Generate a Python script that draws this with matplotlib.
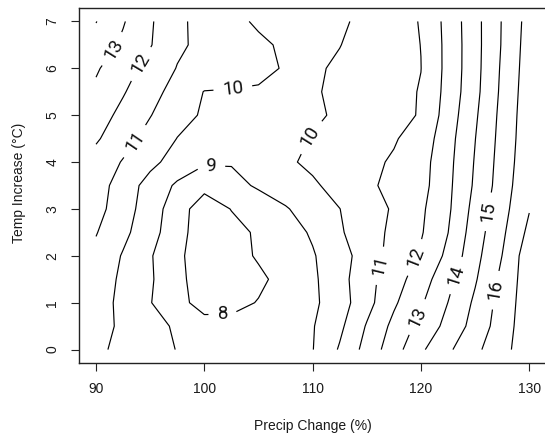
import matplotlib
matplotlib.use("Agg")
import matplotlib.pyplot as plt
import numpy as np

# Grid axes
precip_change = [90, 92.5, 95, 97.5, 100, 102.5, 105, 107.5, 110, 112.5,
                 115, 117.5, 120, 122.5, 125, 127.5, 130]
temp_increase = [0, 0.5, 1, 1.5, 2, 2.5, 3, 3.5, 4, 4.5, 5, 5.5, 6, 6.5, 7]

# Response surface, one row per temperature step
row_t00 = [10.18, 9.77, 9.36, 8.97, 8.73, 8.50, 8.53, 8.75, 8.97, 10.10, 11.35, 12.57, 13.84, 14.83, 15.77, 16.69, 17.60]
row_t05 = [10.33, 9.84, 9.34, 8.86, 8.39, 8.32, 8.53, 8.73, 8.94, 9.79, 11.08, 12.26, 13.32, 14.29, 15.37, 16.50, 17.64]
row_t10 = [10.45, 9.74, 9.04, 8.33, 7.60, 7.70, 8.05, 8.43, 8.81, 9.55, 10.66, 11.85, 12.88, 14.01, 15.17, 16.40, 17.59]
row_t15 = [10.52, 9.82, 9.11, 8.31, 7.40, 7.50, 7.80, 8.34, 8.83, 9.65, 10.66, 11.57, 12.51, 13.72, 14.90, 16.24, 17.58]
row_t20 = [10.76, 9.92, 9.08, 8.26, 7.30, 7.60, 8.11, 8.51, 8.92, 9.59, 10.48, 11.37, 12.13, 13.23, 14.69, 16.01, 17.59]
row_t25 = [11.05, 10.24, 9.36, 8.39, 7.40, 7.70, 8.13, 8.60, 9.11, 9.89, 10.56, 11.22, 11.91, 12.99, 14.51, 15.82, 17.24]
row_t30 = [11.34, 10.44, 9.49, 8.46, 7.45, 8.03, 8.47, 8.92, 9.45, 9.99, 10.54, 11.11, 11.83, 12.84, 14.34, 15.65, 16.95]
row_t35 = [11.46, 10.53, 9.63, 8.85, 8.30, 8.70, 9.12, 9.49, 9.87, 10.31, 10.80, 11.29, 11.65, 12.78, 14.15, 15.48, 16.84]
row_t40 = [11.62, 10.93, 10.25, 9.60, 9.12, 9.07, 9.45, 9.86, 10.18, 10.49, 10.79, 11.10, 11.60, 12.72, 14.07, 15.41, 16.71]
row_t45 = [12.12, 11.38, 10.65, 9.98, 9.76, 9.53, 9.51, 9.77, 10.04, 10.34, 10.63, 10.92, 11.40, 12.63, 13.98, 15.34, 16.64]
row_t50 = [12.44, 11.74, 11.04, 10.32, 9.89, 9.70, 9.50, 9.69, 9.88, 10.11, 10.41, 10.71, 11.07, 12.47, 13.86, 15.28, 16.60]
row_t55 = [12.82, 12.08, 11.34, 10.64, 9.97, 9.94, 9.92, 9.85, 9.93, 10.14, 10.43, 10.72, 11.05, 12.34, 13.73, 15.20, 16.55]
row_t60 = [13.11, 12.39, 11.66, 10.96, 10.71, 10.45, 10.19, 9.94, 9.88, 10.12, 10.43, 10.71, 10.99, 12.29, 13.68, 15.14, 16.49]
row_t65 = [13.58, 12.82, 12.06, 11.17, 10.75, 10.45, 10.14, 9.88, 9.75, 9.98, 10.31, 10.66, 11.01, 12.29, 13.67, 15.07, 16.44]
row_t70 = [14.03, 13.08, 12.12, 11.21, 10.66, 10.21, 9.89, 9.68, 9.72, 9.85, 10.25, 10.63, 11.05, 12.33, 13.68, 15.05, 16.37]

surface = np.array([row_t00, row_t05, row_t10, row_t15, row_t20, row_t25, row_t30,
                    row_t35, row_t40, row_t45, row_t50, row_t55, row_t60, row_t65,
                    row_t70])

contour_levels = [8, 9, 10, 11, 12, 13, 14, 15, 16, 17]
labelled_levels = [8, 9, 10, 11, 12, 13, 14, 15, 16]

x_ticks = [90, 100, 110, 120, 130]
y_ticks = [0, 1, 2, 3, 4, 5, 6, 7]

# Where the contour labels sit
label_spots = [(91.6, 6.4), (94.1, 6.1), (93.6, 4.44), (102.6, 5.62),
               (100.6, 3.84), (101.7, 0.70), (109.7, 4.55), (116.0, 1.80),
               (119.6, 1.95), (119.6, 0.70), (123.1, 1.59), (126.2, 2.94),
               (126.8, 1.27)]

plt.rcParams["font.family"] = ["Liberation Sans", "DejaVu Sans"]

fig = plt.figure(figsize=(5.45, 4.38), dpi=100)
ax = fig.add_axes([0.1444, 0.1719, 0.8585, 0.8091])
ax.set_xlim(88.4, 131.6)
ax.set_ylim(-0.28, 7.28)

cs = ax.contour(precip_change, temp_increase, surface, levels=contour_levels,
                colors="black", linewidths=0.85)

with plt.rc_context({"font.family": ["Roboto", "DejaVu Sans"], "font.weight": "normal"}):
    ax.clabel(cs, levels=labelled_levels, manual=label_spots, inline=True,
              inline_spacing=9, fmt="%d", fontsize=13.5, colors="#111111")

ax.set_xticks(x_ticks)
ax.set_yticks(y_ticks)
ax.tick_params(direction="out", length=6, width=0.8, pad=8, labelsize=10,
               color="#222222", labelcolor="#1a1a1a")
for lab in ax.get_yticklabels():
    lab.set_rotation(90)
    lab.set_va("center")

for sp in ax.spines.values():
    sp.set_linewidth(1.0)
    sp.set_color("#222222")

ax.set_xlabel("Precip Change (%)", fontsize=10, color="#1a1a1a")
ax.xaxis.set_label_coords(0.5, -0.1772)
ax.xaxis.label.set_va("center")
ax.set_ylabel("Temp Increase (°C)", fontsize=10, color="#1a1a1a")
ax.yaxis.set_label_coords(-0.1276, 0.507)
ax.yaxis.label.set_va("center")

fig.savefig("out.png", dpi=100)
